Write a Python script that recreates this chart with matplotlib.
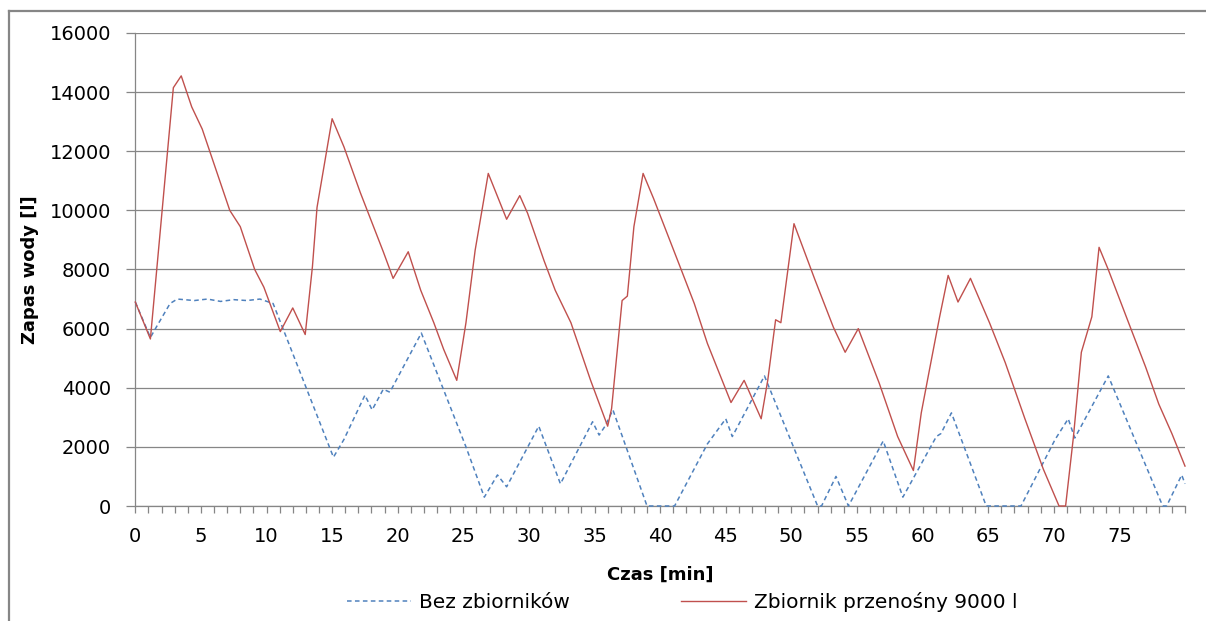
import matplotlib
matplotlib.use("Agg")
import matplotlib.pyplot as plt
from matplotlib.lines import Line2D

# ---------------- data ----------------
red_t = [0, 1.15, 2.9, 3.5, 4.3, 5.1, 7.2, 8.0, 9.1, 9.8,
         11.05, 12.0, 12.95, 13.5, 13.85, 15.0, 15.9, 17.15, 18.9, 19.65,
         20.8, 21.75, 22.75, 23.5, 24.5, 25.2, 25.9, 26.9, 28.3, 29.3,
         29.9, 31.15, 32.0, 33.2, 34.7, 36.0, 36.3, 37.1, 37.5, 38.0,
         38.7, 39.5, 41.6, 42.6, 43.6, 45.4, 46.4, 47.7, 48.2, 48.8,
         49.2, 50.2, 51.8, 53.2, 54.1, 55.1, 56.7, 58.1, 59.3, 59.9,
         60.5, 61.3, 61.95, 62.7, 63.65, 65.1, 66.3, 67.8, 69.2, 70.4,
         70.9, 71.5, 72.1, 72.6, 72.9, 73.45, 74.15, 75.7, 77.0, 78.0,
         79.0, 80.0]
red_v = [6900, 5650, 14150, 14550, 13500, 12750, 10000, 9450, 8000, 7400,
         5900, 6700, 5800, 8100, 10100, 13100, 12150, 10600, 8600, 7700,
         8600, 7300, 6200, 5300, 4250, 6200, 8650, 11250, 9700, 10500,
         9900, 8300, 7300, 6200, 4250, 2700, 3300, 6950, 7100, 9450,
         11250, 10400, 8000, 6850, 5500, 3500, 4250, 2950, 4250, 6300,
         6200, 9550, 7650, 6050, 5200, 6000, 4150, 2350, 1200, 3150,
         4550, 6400, 7800, 6900, 7700, 6200, 4850, 2950, 1250, 0,
         0, 2350, 5200, 5950, 6400, 8750, 8000, 6200, 4700, 3450,
         2450, 1350]

blue_t = [0, 1.15, 1.6, 2.65, 3.2, 4.5, 5.5, 6.5, 7.5, 8.5,
          9.5, 10.5, 10.9, 15.1, 15.9, 17.5, 18.05, 18.9, 19.4, 21.8,
          25.2, 26.6, 27.6, 28.3, 30.75, 32.4, 34.85, 35.35, 35.8, 36.4,
          39.0, 41.1, 43.6, 45.0, 45.5, 47.95, 52.0, 52.3, 53.4, 54.35,
          57.0, 58.5, 61.05, 61.4, 62.2, 64.85, 67.5, 70.1, 71.1, 71.6,
          74.15, 78.3, 78.6, 79.75, 80.0]
blue_v = [6900, 5700, 6050, 6850, 7000, 6950, 7000, 6920, 6980, 6950,
          7000, 6850, 6400, 1650, 2250, 3750, 3250, 3950, 3850, 5850,
          2000, 300, 1050, 650, 2700, 750, 2850, 2400, 2700, 3250,
          0, 0, 2100, 2950, 2350, 4400, 0, 0, 1000, 0,
          2200, 300, 2350, 2450, 3150, 0, 0, 2250, 2950, 2300,
          4400, 0, 0, 1050, 750]

x_major = list(range(0, 80, 5))
x_labels = [str(v) for v in x_major]
y_ticks = list(range(0, 16001, 2000))

series_names = ["Bez zbiorników", "Zbiornik przenośny 9000 l"]
x_title = "Czas [min]"
y_title = "Zapas wody [l]"

# ---------------- figure ----------------
W, H = 1206, 621
fig = plt.figure(figsize=(W / 100, H / 100), dpi=100)
plt.rcParams['font.family'] = ['DejaVu Sans']

gray = "#868686"
blue = "#4F81BD"
red = "#C0504D"

ax = fig.add_axes([135.3 / W, 1 - 506 / H, (1185 - 135.3) / W, (506 - 33) / H])

ax.plot(blue_t, blue_v, color=blue, lw=1.1, dashes=(3, 2.2), label=series_names[0],
        clip_on=False, zorder=3)
ax.plot(red_t, red_v, color=red, lw=1.0, label=series_names[1],
        clip_on=False, zorder=4)

ax.set_xlim(0, 80)
ax.set_ylim(0, 16000)
ax.set_yticks(y_ticks)
ax.set_yticklabels([str(v) for v in y_ticks])
ax.set_xticks(x_major)
ax.set_xticklabels(x_labels)
ax.set_xticks(range(0, 81), minor=True)

ax.grid(axis='y', color=gray, lw=0.9)
ax.set_axisbelow(True)
for s in ['top', 'right']:
    ax.spines[s].set_visible(False)
for s in ['left', 'bottom']:
    ax.spines[s].set_color(gray)
    ax.spines[s].set_linewidth(0.9)

ax.tick_params(axis='x', which='both', direction='out', length=5, width=0.9,
               color=gray, labelsize=14, pad=10)
ax.tick_params(axis='y', which='major', direction='out', length=6.5, width=0.9,
               color=gray, labelsize=14, pad=11)

ax.set_xlabel(x_title, fontsize=13, fontweight='bold', va='center')
ax.xaxis.set_label_coords(0.5, (506 - 575) / 473)
ax.set_ylabel(y_title, fontsize=13, fontweight='bold', va='center')
ax.yaxis.set_label_coords((30 - 135.3) / (1185 - 135.3), 0.5)

leg = fig.legend(loc='center', bbox_to_anchor=(682 / W, 1 - 602 / H), ncol=2,
                 frameon=False, fontsize=14.5, handlelength=3.2,
                 handletextpad=0.4, columnspacing=5.5, borderpad=0)

# outer chart frame (top and left edges visible in the reference)
fig.add_artist(Line2D([9 / W, 9 / W], [0, 1 - 11 / H], transform=fig.transFigure,
                      color=gray, lw=1.6))
fig.add_artist(Line2D([9 / W, 1.0], [1 - 11 / H, 1 - 11 / H], transform=fig.transFigure,
                      color=gray, lw=1.6))

fig.savefig("out.png", dpi=100)
